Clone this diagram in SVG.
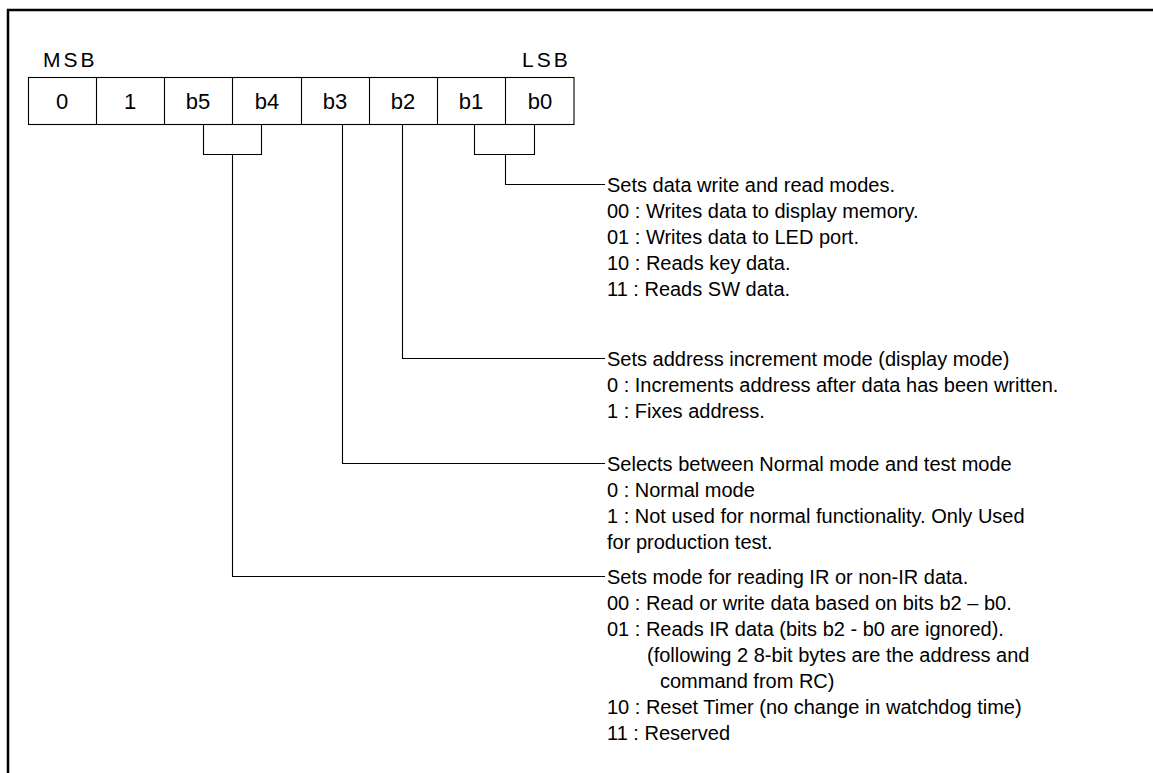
<svg xmlns="http://www.w3.org/2000/svg" width="1153" height="773" viewBox="0 0 1153 773">
<style>
.t{font-family:"Liberation Sans",Arial,sans-serif;font-size:20px;fill:#000}
.c{font-family:"Liberation Sans",Arial,sans-serif;font-size:22px;fill:#000;text-anchor:middle}
.h{font-family:"Liberation Sans",Arial,sans-serif;font-size:21px;fill:#000;letter-spacing:3px}
.ln{fill:none;stroke:#000;stroke-width:1.1}
</style>
<rect width="1153" height="773" fill="#fff"/>
<path d="M8,773V10H1153" fill="none" stroke="#000" stroke-width="2.5"/>
<g id="register">
<text class="h" x="43" y="67">MSB</text>
<text class="h" x="522" y="67">LSB</text>
<rect x="28.5" y="77.5" width="545.5" height="47" fill="#fff" stroke="#000" stroke-width="1.1"/>
<path class="ln" d="M96.5,77.5V124.5M164.5,77.5V124.5M232.5,77.5V124.5M301.5,77.5V124.5M369.5,77.5V124.5M437.5,77.5V124.5M505.5,77.5V124.5"/>
<text class="c" x="62" y="109">0</text>
<text class="c" x="130" y="109">1</text>
<text class="c" x="198" y="109">b5</text>
<text class="c" x="267" y="109">b4</text>
<text class="c" x="335" y="109">b3</text>
<text class="c" x="403" y="109">b2</text>
<text class="c" x="471" y="109">b1</text>
<text class="c" x="540" y="109">b0</text>
</g>
<g id="connectors">
<path class="ln" d="M203.5,124.5V154.5H261.5V124.5"/>
<path class="ln" d="M474.5,124.5V154.5H534.5V124.5"/>
<path class="ln" d="M505.5,154.5V184.5H605"/>
<path class="ln" d="M402.5,124.5V358.5H605"/>
<path class="ln" d="M342.5,124.5V463.5H605"/>
<path class="ln" d="M232.5,154.5V576.5H605"/>
</g>
<g id="b1b0">
<text class="t" x="607" y="192">Sets data write and read modes.</text>
<text class="t" x="607" y="218">00 : Writes data to display memory.</text>
<text class="t" x="607" y="244">01 : Writes data to LED port.</text>
<text class="t" x="607" y="270">10 : Reads key data.</text>
<text class="t" x="607" y="296">11 : Reads SW data.</text>
</g>
<g id="b2">
<text class="t" x="607" y="366">Sets address increment mode (display mode)</text>
<text class="t" x="607" y="392">0 : Increments address after data has been written.</text>
<text class="t" x="607" y="418">1 : Fixes address.</text>
</g>
<g id="b3">
<text class="t" x="607" y="471">Selects between Normal mode and test mode</text>
<text class="t" x="607" y="497">0 : Normal mode</text>
<text class="t" x="607" y="523">1 : Not used for normal functionality. Only Used</text>
<text class="t" x="607" y="549">for production test.</text>
</g>
<g id="b5b4">
<text class="t" x="607" y="584">Sets mode for reading IR or non-IR data.</text>
<text class="t" x="607" y="610">00 : Read or write data based on bits b2 – b0.</text>
<text class="t" x="607" y="636">01 : Reads IR data (bits b2 - b0 are ignored).</text>
<text class="t" x="647" y="662">(following 2 8-bit bytes are the address and</text>
<text class="t" x="660" y="688">command from RC)</text>
<text class="t" x="607" y="714">10 : Reset Timer (no change in watchdog time)</text>
<text class="t" x="607" y="740">11 : Reserved</text>
</g>
</svg>
